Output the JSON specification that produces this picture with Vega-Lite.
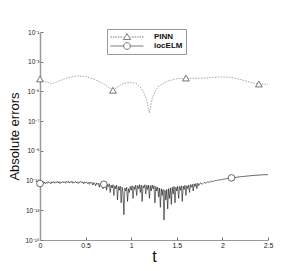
{
  "$schema": "https://vega.github.io/schema/vega-lite/v6.json",
  "width": 228,
  "height": 208,
  "autosize": "none",
  "padding": {"left": 40, "top": 32, "right": 37, "bottom": 31},
  "background": "white",
  "config": {
    "view": {"stroke": null},
    "font": "Liberation Sans",
    "axis": {"grid": false, "domainColor": "#9a9a9a", "tickColor": "#777", "labelColor": "#222", "titleColor": "#111", "titleFontWeight": "normal"},
    "legend": {"labelFont": "Liberation Sans"}
  },
  "datasets": {
    "curves": [
      {"t": 0.00, "err": 6.92e-5, "series": "PINN"},
      {"t": 0.06, "err": 4.47e-5, "series": "PINN"},
      {"t": 0.13, "err": 3.31e-5, "series": "PINN"},
      {"t": 0.20, "err": 4.79e-5, "series": "PINN"},
      {"t": 0.30, "err": 8.32e-5, "series": "PINN"},
      {"t": 0.41, "err": 1.10e-4, "series": "PINN"},
      {"t": 0.50, "err": 1.00e-4, "series": "PINN"},
      {"t": 0.60, "err": 6.31e-5, "series": "PINN"},
      {"t": 0.70, "err": 3.16e-5, "series": "PINN"},
      {"t": 0.80, "err": 1.20e-5, "series": "PINN"},
      {"t": 0.85, "err": 2.00e-5, "series": "PINN"},
      {"t": 0.90, "err": 3.16e-5, "series": "PINN"},
      {"t": 0.95, "err": 3.80e-5, "series": "PINN"},
      {"t": 1.00, "err": 3.98e-5, "series": "PINN"},
      {"t": 1.05, "err": 3.55e-5, "series": "PINN"},
      {"t": 1.10, "err": 2.00e-5, "series": "PINN"},
      {"t": 1.14, "err": 7.94e-6, "series": "PINN"},
      {"t": 1.17, "err": 2.51e-6, "series": "PINN"},
      {"t": 1.19, "err": 6.31e-7, "series": "PINN"},
      {"t": 1.20, "err": 3.55e-7, "series": "PINN"},
      {"t": 1.21, "err": 7.94e-7, "series": "PINN"},
      {"t": 1.23, "err": 3.16e-6, "series": "PINN"},
      {"t": 1.26, "err": 1.00e-5, "series": "PINN"},
      {"t": 1.30, "err": 2.24e-5, "series": "PINN"},
      {"t": 1.40, "err": 5.01e-5, "series": "PINN"},
      {"t": 1.50, "err": 7.08e-5, "series": "PINN"},
      {"t": 1.60, "err": 7.94e-5, "series": "PINN"},
      {"t": 1.70, "err": 7.59e-5, "series": "PINN"},
      {"t": 1.80, "err": 7.94e-5, "series": "PINN"},
      {"t": 1.90, "err": 8.91e-5, "series": "PINN"},
      {"t": 2.00, "err": 9.55e-5, "series": "PINN"},
      {"t": 2.10, "err": 8.71e-5, "series": "PINN"},
      {"t": 2.20, "err": 6.31e-5, "series": "PINN"},
      {"t": 2.30, "err": 4.17e-5, "series": "PINN"},
      {"t": 2.40, "err": 3.16e-5, "series": "PINN"},
      {"t": 2.50, "err": 3.02e-5, "series": "PINN"},
      {"t": 0.00, "err": 6.31e-12, "series": "locELM"},
      {"t": 0.01, "err": 6.92e-12, "series": "locELM"},
      {"t": 0.02, "err": 5.62e-12, "series": "locELM"},
      {"t": 0.03, "err": 7.24e-12, "series": "locELM"},
      {"t": 0.04, "err": 6.31e-12, "series": "locELM"},
      {"t": 0.05, "err": 7.94e-12, "series": "locELM"},
      {"t": 0.06, "err": 6.03e-12, "series": "locELM"},
      {"t": 0.07, "err": 7.59e-12, "series": "locELM"},
      {"t": 0.08, "err": 6.61e-12, "series": "locELM"},
      {"t": 0.09, "err": 8.32e-12, "series": "locELM"},
      {"t": 0.10, "err": 6.92e-12, "series": "locELM"},
      {"t": 0.11, "err": 7.59e-12, "series": "locELM"},
      {"t": 0.12, "err": 6.03e-12, "series": "locELM"},
      {"t": 0.13, "err": 8.32e-12, "series": "locELM"},
      {"t": 0.14, "err": 7.08e-12, "series": "locELM"},
      {"t": 0.15, "err": 8.71e-12, "series": "locELM"},
      {"t": 0.16, "err": 6.61e-12, "series": "locELM"},
      {"t": 0.17, "err": 7.94e-12, "series": "locELM"},
      {"t": 0.18, "err": 7.24e-12, "series": "locELM"},
      {"t": 0.19, "err": 8.91e-12, "series": "locELM"},
      {"t": 0.20, "err": 6.92e-12, "series": "locELM"},
      {"t": 0.21, "err": 8.32e-12, "series": "locELM"},
      {"t": 0.22, "err": 6.31e-12, "series": "locELM"},
      {"t": 0.23, "err": 7.94e-12, "series": "locELM"},
      {"t": 0.24, "err": 7.24e-12, "series": "locELM"},
      {"t": 0.25, "err": 8.71e-12, "series": "locELM"},
      {"t": 0.26, "err": 7.08e-12, "series": "locELM"},
      {"t": 0.27, "err": 8.32e-12, "series": "locELM"},
      {"t": 0.28, "err": 6.61e-12, "series": "locELM"},
      {"t": 0.29, "err": 8.71e-12, "series": "locELM"},
      {"t": 0.30, "err": 7.59e-12, "series": "locELM"},
      {"t": 0.31, "err": 8.91e-12, "series": "locELM"},
      {"t": 0.32, "err": 6.92e-12, "series": "locELM"},
      {"t": 0.33, "err": 8.32e-12, "series": "locELM"},
      {"t": 0.34, "err": 7.24e-12, "series": "locELM"},
      {"t": 0.35, "err": 8.91e-12, "series": "locELM"},
      {"t": 0.36, "err": 6.61e-12, "series": "locELM"},
      {"t": 0.37, "err": 7.94e-12, "series": "locELM"},
      {"t": 0.38, "err": 7.24e-12, "series": "locELM"},
      {"t": 0.39, "err": 8.71e-12, "series": "locELM"},
      {"t": 0.40, "err": 7.08e-12, "series": "locELM"},
      {"t": 0.41, "err": 8.32e-12, "series": "locELM"},
      {"t": 0.42, "err": 6.31e-12, "series": "locELM"},
      {"t": 0.43, "err": 7.94e-12, "series": "locELM"},
      {"t": 0.44, "err": 7.59e-12, "series": "locELM"},
      {"t": 0.45, "err": 8.91e-12, "series": "locELM"},
      {"t": 0.46, "err": 6.92e-12, "series": "locELM"},
      {"t": 0.47, "err": 7.94e-12, "series": "locELM"},
      {"t": 0.48, "err": 6.03e-12, "series": "locELM"},
      {"t": 0.49, "err": 8.32e-12, "series": "locELM"},
      {"t": 0.50, "err": 7.24e-12, "series": "locELM"},
      {"t": 0.51, "err": 7.94e-12, "series": "locELM"},
      {"t": 0.52, "err": 6.31e-12, "series": "locELM"},
      {"t": 0.53, "err": 7.59e-12, "series": "locELM"},
      {"t": 0.54, "err": 5.62e-12, "series": "locELM"},
      {"t": 0.55, "err": 7.94e-12, "series": "locELM"},
      {"t": 0.56, "err": 6.61e-12, "series": "locELM"},
      {"t": 0.57, "err": 7.59e-12, "series": "locELM"},
      {"t": 0.58, "err": 5.01e-12, "series": "locELM"},
      {"t": 0.59, "err": 7.24e-12, "series": "locELM"},
      {"t": 0.60, "err": 6.31e-12, "series": "locELM"},
      {"t": 0.61, "err": 4.47e-12, "series": "locELM"},
      {"t": 0.62, "err": 7.08e-12, "series": "locELM"},
      {"t": 0.63, "err": 5.62e-12, "series": "locELM"},
      {"t": 0.64, "err": 6.61e-12, "series": "locELM"},
      {"t": 0.65, "err": 3.55e-12, "series": "locELM"},
      {"t": 0.66, "err": 6.31e-12, "series": "locELM"},
      {"t": 0.67, "err": 5.01e-12, "series": "locELM"},
      {"t": 0.68, "err": 6.92e-12, "series": "locELM"},
      {"t": 0.69, "err": 2.82e-12, "series": "locELM"},
      {"t": 0.70, "err": 6.03e-12, "series": "locELM"},
      {"t": 0.71, "err": 5.01e-12, "series": "locELM"},
      {"t": 0.72, "err": 6.31e-12, "series": "locELM"},
      {"t": 0.73, "err": 2.24e-12, "series": "locELM"},
      {"t": 0.74, "err": 5.62e-12, "series": "locELM"},
      {"t": 0.75, "err": 3.98e-12, "series": "locELM"},
      {"t": 0.76, "err": 6.03e-12, "series": "locELM"},
      {"t": 0.77, "err": 1.58e-12, "series": "locELM"},
      {"t": 0.78, "err": 5.01e-12, "series": "locELM"},
      {"t": 0.79, "err": 3.16e-12, "series": "locELM"},
      {"t": 0.80, "err": 5.25e-12, "series": "locELM"},
      {"t": 0.81, "err": 1.00e-12, "series": "locELM"},
      {"t": 0.82, "err": 4.47e-12, "series": "locELM"},
      {"t": 0.83, "err": 2.82e-12, "series": "locELM"},
      {"t": 0.84, "err": 5.01e-12, "series": "locELM"},
      {"t": 0.85, "err": 5.01e-13, "series": "locELM"},
      {"t": 0.86, "err": 3.98e-12, "series": "locELM"},
      {"t": 0.87, "err": 2.24e-12, "series": "locELM"},
      {"t": 0.88, "err": 4.17e-12, "series": "locELM"},
      {"t": 0.89, "err": 3.16e-13, "series": "locELM"},
      {"t": 0.90, "err": 3.55e-12, "series": "locELM"},
      {"t": 0.91, "err": 1.58e-12, "series": "locELM"},
      {"t": 0.92, "err": 5.01e-14, "series": "locELM"},
      {"t": 0.93, "err": 3.16e-12, "series": "locELM"},
      {"t": 0.94, "err": 2.00e-12, "series": "locELM"},
      {"t": 0.95, "err": 3.55e-12, "series": "locELM"},
      {"t": 0.96, "err": 3.98e-13, "series": "locELM"},
      {"t": 0.97, "err": 2.82e-12, "series": "locELM"},
      {"t": 0.98, "err": 1.58e-12, "series": "locELM"},
      {"t": 0.99, "err": 3.98e-12, "series": "locELM"},
      {"t": 1.00, "err": 2.24e-12, "series": "locELM"},
      {"t": 1.01, "err": 4.47e-12, "series": "locELM"},
      {"t": 1.02, "err": 6.31e-13, "series": "locELM"},
      {"t": 1.03, "err": 3.98e-12, "series": "locELM"},
      {"t": 1.04, "err": 2.51e-12, "series": "locELM"},
      {"t": 1.05, "err": 5.01e-12, "series": "locELM"},
      {"t": 1.06, "err": 1.00e-12, "series": "locELM"},
      {"t": 1.07, "err": 4.47e-12, "series": "locELM"},
      {"t": 1.08, "err": 2.82e-12, "series": "locELM"},
      {"t": 1.09, "err": 5.25e-12, "series": "locELM"},
      {"t": 1.10, "err": 1.58e-12, "series": "locELM"},
      {"t": 1.11, "err": 5.01e-12, "series": "locELM"},
      {"t": 1.12, "err": 3.98e-13, "series": "locELM"},
      {"t": 1.13, "err": 4.47e-12, "series": "locELM"},
      {"t": 1.14, "err": 3.16e-12, "series": "locELM"},
      {"t": 1.15, "err": 5.25e-12, "series": "locELM"},
      {"t": 1.16, "err": 1.26e-12, "series": "locELM"},
      {"t": 1.17, "err": 4.79e-12, "series": "locELM"},
      {"t": 1.18, "err": 2.51e-12, "series": "locELM"},
      {"t": 1.19, "err": 5.01e-12, "series": "locELM"},
      {"t": 1.20, "err": 6.31e-13, "series": "locELM"},
      {"t": 1.21, "err": 4.47e-12, "series": "locELM"},
      {"t": 1.22, "err": 2.00e-12, "series": "locELM"},
      {"t": 1.23, "err": 5.01e-12, "series": "locELM"},
      {"t": 1.24, "err": 2.82e-12, "series": "locELM"},
      {"t": 1.25, "err": 4.47e-12, "series": "locELM"},
      {"t": 1.26, "err": 3.16e-13, "series": "locELM"},
      {"t": 1.27, "err": 3.98e-12, "series": "locELM"},
      {"t": 1.28, "err": 2.00e-12, "series": "locELM"},
      {"t": 1.29, "err": 3.55e-12, "series": "locELM"},
      {"t": 1.30, "err": 7.94e-13, "series": "locELM"},
      {"t": 1.31, "err": 3.16e-12, "series": "locELM"},
      {"t": 1.32, "err": 1.58e-13, "series": "locELM"},
      {"t": 1.33, "err": 2.82e-12, "series": "locELM"},
      {"t": 1.34, "err": 1.00e-12, "series": "locELM"},
      {"t": 1.35, "err": 2.51e-12, "series": "locELM"},
      {"t": 1.36, "err": 2.24e-14, "series": "locELM"},
      {"t": 1.37, "err": 2.24e-12, "series": "locELM"},
      {"t": 1.38, "err": 5.01e-13, "series": "locELM"},
      {"t": 1.39, "err": 2.51e-12, "series": "locELM"},
      {"t": 1.40, "err": 1.26e-13, "series": "locELM"},
      {"t": 1.41, "err": 2.82e-12, "series": "locELM"},
      {"t": 1.42, "err": 6.31e-13, "series": "locELM"},
      {"t": 1.43, "err": 3.16e-12, "series": "locELM"},
      {"t": 1.44, "err": 2.51e-13, "series": "locELM"},
      {"t": 1.45, "err": 3.55e-12, "series": "locELM"},
      {"t": 1.46, "err": 1.26e-12, "series": "locELM"},
      {"t": 1.47, "err": 3.98e-12, "series": "locELM"},
      {"t": 1.48, "err": 3.16e-13, "series": "locELM"},
      {"t": 1.49, "err": 3.55e-12, "series": "locELM"},
      {"t": 1.50, "err": 2.00e-12, "series": "locELM"},
      {"t": 1.51, "err": 4.17e-12, "series": "locELM"},
      {"t": 1.52, "err": 6.31e-13, "series": "locELM"},
      {"t": 1.53, "err": 3.98e-12, "series": "locELM"},
      {"t": 1.54, "err": 2.24e-12, "series": "locELM"},
      {"t": 1.55, "err": 4.47e-12, "series": "locELM"},
      {"t": 1.56, "err": 3.98e-13, "series": "locELM"},
      {"t": 1.57, "err": 4.17e-12, "series": "locELM"},
      {"t": 1.58, "err": 2.51e-12, "series": "locELM"},
      {"t": 1.59, "err": 4.79e-12, "series": "locELM"},
      {"t": 1.60, "err": 1.00e-12, "series": "locELM"},
      {"t": 1.61, "err": 4.47e-12, "series": "locELM"},
      {"t": 1.62, "err": 2.82e-12, "series": "locELM"},
      {"t": 1.63, "err": 5.01e-12, "series": "locELM"},
      {"t": 1.64, "err": 1.58e-12, "series": "locELM"},
      {"t": 1.65, "err": 5.25e-12, "series": "locELM"},
      {"t": 1.66, "err": 3.55e-12, "series": "locELM"},
      {"t": 1.67, "err": 5.62e-12, "series": "locELM"},
      {"t": 1.68, "err": 2.00e-12, "series": "locELM"},
      {"t": 1.69, "err": 6.03e-12, "series": "locELM"},
      {"t": 1.70, "err": 3.98e-12, "series": "locELM"},
      {"t": 1.71, "err": 6.31e-12, "series": "locELM"},
      {"t": 1.72, "err": 2.82e-12, "series": "locELM"},
      {"t": 1.73, "err": 6.61e-12, "series": "locELM"},
      {"t": 1.74, "err": 4.47e-12, "series": "locELM"},
      {"t": 1.76, "err": 7.08e-12, "series": "locELM"},
      {"t": 1.78, "err": 5.62e-12, "series": "locELM"},
      {"t": 1.80, "err": 7.59e-12, "series": "locELM"},
      {"t": 1.82, "err": 6.61e-12, "series": "locELM"},
      {"t": 1.84, "err": 8.32e-12, "series": "locELM"},
      {"t": 1.86, "err": 7.59e-12, "series": "locELM"},
      {"t": 1.88, "err": 9.12e-12, "series": "locELM"},
      {"t": 1.90, "err": 8.71e-12, "series": "locELM"},
      {"t": 1.92, "err": 1.00e-11, "series": "locELM"},
      {"t": 1.94, "err": 1.02e-11, "series": "locELM"},
      {"t": 1.96, "err": 1.10e-11, "series": "locELM"},
      {"t": 1.98, "err": 1.12e-11, "series": "locELM"},
      {"t": 2.00, "err": 1.20e-11, "series": "locELM"},
      {"t": 2.02, "err": 1.26e-11, "series": "locELM"},
      {"t": 2.04, "err": 1.32e-11, "series": "locELM"},
      {"t": 2.06, "err": 1.38e-11, "series": "locELM"},
      {"t": 2.08, "err": 1.45e-11, "series": "locELM"},
      {"t": 2.10, "err": 1.51e-11, "series": "locELM"},
      {"t": 2.15, "err": 1.66e-11, "series": "locELM"},
      {"t": 2.20, "err": 1.82e-11, "series": "locELM"},
      {"t": 2.25, "err": 1.95e-11, "series": "locELM"},
      {"t": 2.30, "err": 2.09e-11, "series": "locELM"},
      {"t": 2.35, "err": 2.24e-11, "series": "locELM"},
      {"t": 2.40, "err": 2.34e-11, "series": "locELM"},
      {"t": 2.45, "err": 2.45e-11, "series": "locELM"},
      {"t": 2.50, "err": 2.51e-11, "series": "locELM"}
    ],
    "markers": [
      {"t": 0.0, "err": 6.92e-5, "series": "PINN"},
      {"t": 0.8, "err": 1.20e-5, "series": "PINN"},
      {"t": 1.6, "err": 7.94e-5, "series": "PINN"},
      {"t": 2.4, "err": 3.16e-5, "series": "PINN"},
      {"t": 0.0, "err": 6.31e-12, "series": "locELM"},
      {"t": 0.7, "err": 5.62e-12, "series": "locELM"},
      {"t": 2.1, "err": 1.51e-11, "series": "locELM"}
    ]
  },
  "layer": [
    {
      "data": {"name": "curves"},
      "mark": {"type": "line", "strokeWidth": 0.6, "clip": true},
      "encoding": {
        "x": {
          "field": "t", "type": "quantitative",
          "scale": {"domain": [0, 2.5], "nice": false},
          "axis": {
            "values": [0, 0.5, 1, 1.5, 2, 2.5],
            "format": "~g",
            "labelOverlap": false,
            "labelFlush": false,
            "tickSize": -3,
            "labelFontSize": 7,
            "labelPadding": 4,
            "title": "t",
            "titleFontSize": 16,
            "titlePadding": 0,
            "domainWidth": 1.2
          }
        },
        "y": {
          "field": "err", "type": "quantitative",
          "scale": {"type": "log", "domain": [1e-15, 0.1], "nice": false},
          "axis": {
            "values": [1e-15, 1e-13, 1e-11, 1e-9, 1e-7, 1e-5, 1e-3, 1e-1],
            "labelExpr": "datum.value < 3e-15 ? '10⁻¹⁵' : datum.value < 3e-13 ? '10⁻¹³' : datum.value < 3e-11 ? '10⁻¹¹' : datum.value < 3e-9 ? '10⁻⁹' : datum.value < 3e-7 ? '10⁻⁷' : datum.value < 3e-5 ? '10⁻⁵' : datum.value < 3e-3 ? '10⁻³' : '10⁻¹'",
            "labelOverlap": false,
            "tickSize": -3,
            "labelFontSize": 6.5,
            "labelPadding": 4,
            "title": "Absolute errors",
            "titleFontSize": 13,
            "titlePadding": 3,
            "domainWidth": 1.5
          }
        },
        "color": {
          "field": "series", "type": "nominal",
          "scale": {"domain": ["PINN", "locELM"], "range": ["#707070", "#000000"]},
          "legend": null
        },
        "strokeDash": {
          "field": "series", "type": "nominal",
          "scale": {"domain": ["PINN", "locELM"], "range": [[1.6, 1.2], [1, 0]]},
          "legend": null
        }
      }
    },
    {
      "data": {"name": "markers"},
      "mark": {"type": "point", "filled": false, "fill": "white", "fillOpacity": 1, "strokeWidth": 0.8, "size": 45},
      "encoding": {
        "x": {"field": "t", "type": "quantitative"},
        "y": {"field": "err", "type": "quantitative"},
        "shape": {
          "field": "series", "type": "nominal",
          "scale": {"domain": ["PINN", "locELM"], "range": ["triangle-up", "circle"]},
          "legend": null
        },
        "stroke": {
          "field": "series", "type": "nominal",
          "scale": {"domain": ["PINN", "locELM"], "range": ["#555555", "#444444"]},
          "legend": null
        }
      }
    },
    {
      "data": {"name": "markers"},
      "mark": {"type": "point", "opacity": 0},
      "encoding": {
        "x": {"field": "t", "type": "quantitative"},
        "y": {"field": "err", "type": "quantitative"},
        "shape": {
          "field": "series", "type": "nominal",
          "scale": {"domain": ["PINN", "locELM"], "range": [
            "M-1,0H-0.67M-0.45,0H-0.12M0.1,0H0.43M0.65,0H0.98M1.2,0H1.53M1.75,0H1.87M3.47,0H3.59M3.81,0H4.14M4.36,0H4.69M4.91,0H5.24M5.46,0H5.79M6.01,0H6.33M2.67,-0.75L3.47,0.55L1.87,0.55Z",
            "M-1,0H1.92M3.42,0H6.33M1.92,0A0.75,0.75 0 1 0 3.42,0A0.75,0.75 0 1 0 1.92,0Z"
          ]},
          "legend": {
            "title": null,
            "orient": "none",
            "legendX": 67,
            "legendY": -3,
            "symbolSize": 81,
            "symbolOpacity": 1,
            "symbolFillColor": "white",
            "symbolStrokeColor": "#444444",
            "symbolStrokeWidth": 0.7,
            "labelFontSize": 8,
            "labelFontWeight": "bold",
            "labelColor": "#111",
            "labelOffset": 34,
            "rowPadding": 0,
            "padding": 3,
            "strokeColor": "#999999",
            "fillColor": "white"
          }
        }
      }
    }
  ],
  "resolve": {"scale": {"shape": "independent"}}
}
